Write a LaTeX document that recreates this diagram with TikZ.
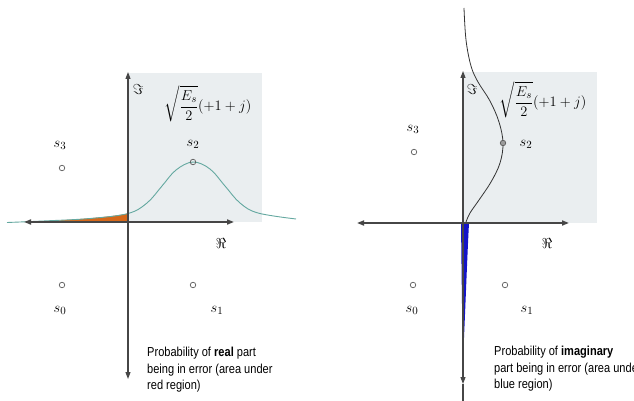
\documentclass[tikz,border=0pt]{standalone}
\usepackage{fontspec}
\usepackage{amsmath,amssymb}
\usetikzlibrary{arrows.meta}
\newfontfamily\narrowsans[FakeStretch=0.85]{Liberation Sans}
\definecolor{regiongray}{RGB}{234,238,240}
\definecolor{axisgray}{RGB}{70,70,70}
\definecolor{curveteal}{RGB}{100,168,160}
\definecolor{errorange}{RGB}{214,104,26}
\definecolor{errblue}{RGB}{20,20,200}
\definecolor{dotgray}{RGB}{90,90,90}
\tikzset{
  axisline/.style={draw=axisgray, line width=1.1pt, -{Triangle[length=7pt,width=5pt]}},
  haxis/.style={draw=axisgray, line width=1.6pt, {Triangle[length=7pt,width=5pt]}-{Triangle[length=7pt,width=5pt]}},
  pt/.style={circle, draw=dotgray, line width=0.7pt, minimum size=5.5pt, inner sep=0pt},
  lbl/.style={inner sep=0pt, font=\fontsize{15}{18}\selectfont},
  note/.style={inner sep=0pt, align=left, anchor=north west, font=\narrowsans\fontsize{13}{16.5}\selectfont},
}
\begin{document}
\begin{tikzpicture}[x=1pt,y=-1pt]
\useasboundingbox (0,0) rectangle (634,401);
% ---------------- left panel ----------------
\fill[regiongray] (128,73) rectangle (262,222);
\fill[errorange] (36,222) -- (36,221.6) .. controls (80,219.5) and (110,217) .. (128,213.5) -- (128,222) -- cycle;
\draw[curveteal, line width=0.9pt] plot[smooth, tension=0.6] coordinates {(7,222.5) (43,221) (90,218.5) (128,213.5) (147,203) (162,186) (176,170) (193,162) (210,169) (225,186) (240,203) (258,213) (296,219)};
\coordinate (LT) at (128,222);
\coordinate (Ltop) at (128,72);
\coordinate (Lbot) at (128,379);
\coordinate (Lleft) at (24,222);
\coordinate (Lright) at (234,222);
\draw[haxis] (Lleft) -- (Lright);
\draw[axisline] (LT) -- (Ltop);
\draw[axisline] (LT) -- (Lbot);
\node[lbl] (Lim) at (138,90) {$\Im$};
\node[lbl] (Lre) at (221,243) {$\Re$};
\node[lbl] (Lform) at (208,104) {$\displaystyle\sqrt{\frac{E_s}{2}}(+1+j)$};
\node[pt] (Ls2) at (193,162) {};
\node[lbl] (Ls2l) at (193,144) {$s_2$};
\node[pt] (Ls3) at (62,168) {};
\node[lbl] (Ls3l) at (60,145) {$s_3$};
\node[pt] (Ls0) at (62,285) {};
\node[lbl] (Ls0l) at (60,310) {$s_0$};
\node[pt] (Ls1) at (193,285) {};
\node[lbl] (Ls1l) at (217,310) {$s_1$};
\node[note] (Lnote) at (147,347) {Probability of \textbf{real} part\\being in error (area under\\red region)};
% ---------------- right panel ----------------
\fill[regiongray] (463,72) rectangle (597,223);
\fill[errblue] (461,223) -- (469,223) .. controls (467,260) and (465,320) .. (463,358) .. controls (462,320) and (461.5,260) .. (461,223) -- cycle;
\coordinate (RT) at (463,223);
\coordinate (Rtop) at (463,71);
\coordinate (Rbot) at (463,384);
\coordinate (Rend) at (463,401);
\coordinate (Rleft) at (357,223);
\coordinate (Rright) at (569,223);
\draw[haxis] (Rleft) -- (Rright);
\draw[axisline] (RT) -- (Rtop);
\draw[axisline] (RT) -- (Rbot);
\draw[axisgray, line width=1.1pt] (Rbot) -- (Rend);
\draw[black!80, line width=0.8pt] plot[smooth, tension=0.6] coordinates {(464,8) (466,40) (471,66) (478,82) (490,101) (499,122) (503,143) (500,163) (491,182) (479,200) (470,213) (466,222)};
\node[lbl] (Rim) at (472,90) {$\Im$};
\node[lbl] (Rre) at (547,243) {$\Re$};
\node[lbl] (Rform) at (543,100) {$\displaystyle\sqrt{\frac{E_s}{2}}(+1+j)$};
\node[pt, fill=dotgray!60] (Rs2) at (503,143) {};
\node[lbl] (Rs2l) at (526,144) {$s_2$};
\node[pt] (Rs3) at (414,152) {};
\node[lbl] (Rs3l) at (413,129) {$s_3$};
\node[pt] (Rs0) at (413,285) {};
\node[lbl] (Rs0l) at (412,310) {$s_0$};
\node[pt] (Rs1) at (505,285) {};
\node[lbl] (Rs1l) at (527,310) {$s_1$};
\node[note] (Rnote) at (494,346) {Probability of \textbf{imaginary}\\part being in error (area under\\blue region)};
\end{tikzpicture}
\end{document}
